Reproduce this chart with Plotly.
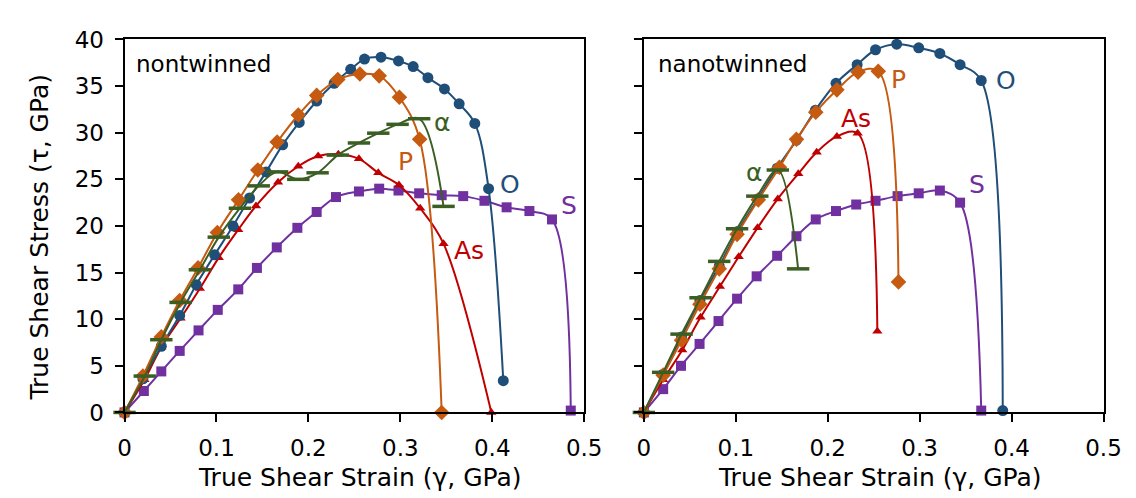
import plotly.graph_objects as go

# ---------------- data: nontwinned (left panel) ----------------
nt_O_x = [0, 0.02, 0.04, 0.06, 0.078, 0.098, 0.118, 0.136, 0.154, 0.172, 0.190, 0.209, 0.228, 0.246, 0.261, 0.279, 0.298, 0.314, 0.330, 0.348, 0.364, 0.381, 0.396, 0.412]
nt_O_y = [0, 3.6, 7.1, 10.4, 13.7, 16.9, 20.0, 23.0, 25.8, 28.7, 31.1, 33.4, 35.3, 36.8, 37.9, 38.1, 37.7, 37.1, 35.9, 34.7, 33.1, 31.0, 24.0, 3.4]

nt_P_x = [0, 0.02, 0.04, 0.06, 0.08, 0.101, 0.124, 0.145, 0.166, 0.189, 0.209, 0.232, 0.256, 0.277, 0.299, 0.321, 0.345]
nt_P_y = [0, 3.9, 8.1, 12.0, 15.5, 19.3, 22.8, 26.0, 29.0, 31.9, 34.0, 35.7, 36.3, 36.1, 33.8, 29.3, 0]

nt_A_x = [0, 0.022, 0.040, 0.061, 0.082, 0.1025, 0.1255, 0.146, 0.166, 0.189, 0.210, 0.232, 0.255, 0.276, 0.297, 0.3205, 0.347]
nt_A_y = [0, 3.9, 7.8, 11.8, 15.3, 18.8, 21.9, 24.3, 25.8, 25.0, 25.7, 27.6, 28.9, 29.95, 30.9, 31.5, 22.1]

nt_As_x = [0, 0.0216, 0.040, 0.061, 0.082, 0.1025, 0.1237, 0.143, 0.167, 0.189, 0.2106, 0.2326, 0.255, 0.276, 0.2985, 0.3216, 0.347, 0.399]
nt_As_y = [0, 3.5, 7.0, 10.1, 13.3, 16.6, 19.6, 22.15, 24.7, 26.4, 27.5, 27.7, 27.2, 25.7, 24.4, 21.9, 18.1, 0]

nt_S_x = [0, 0.021, 0.040, 0.060, 0.0805, 0.1014, 0.1237, 0.144, 0.1656, 0.188, 0.209, 0.230, 0.255, 0.277, 0.298, 0.3205, 0.345, 0.3684, 0.3915, 0.4156, 0.4404, 0.465, 0.4854]
nt_S_y = [0, 2.3, 4.4, 6.6, 8.8, 11.0, 13.2, 15.5, 17.7, 19.8, 21.5, 23.1, 23.7, 24.0, 23.8, 23.5, 23.3, 23.2, 22.7, 22.0, 21.6, 20.7, 0.2]

# ---------------- data: nanotwinned (right panel) ----------------
tw_O_x = [0, 0.021, 0.041, 0.061, 0.082, 0.102, 0.124, 0.145, 0.166, 0.1865, 0.209, 0.232, 0.252, 0.275, 0.299, 0.322, 0.344, 0.367, 0.3904]
tw_O_y = [0, 4.1, 8.1, 12.0, 15.7, 19.4, 22.9, 26.2, 29.2, 32.4, 35.3, 37.3, 38.9, 39.5, 39.1, 38.5, 37.3, 35.6, 0.2]

tw_P_x = [0, 0.021, 0.041, 0.061, 0.082, 0.1014, 0.1245, 0.1475, 0.166, 0.187, 0.210, 0.233, 0.255, 0.277]
tw_P_y = [0, 4.0, 7.75, 11.6, 15.4, 19.1, 22.8, 26.3, 29.3, 32.2, 34.6, 36.5, 36.6, 14.0]

tw_A_x = [0, 0.021, 0.041, 0.0617, 0.082, 0.1014, 0.1234, 0.1457, 0.1678]
tw_A_y = [0, 4.3, 8.4, 12.3, 16.2, 19.7, 23.2, 26.0, 15.4]

tw_As_x = [0, 0.021, 0.0418, 0.0617, 0.0827, 0.1032, 0.1237, 0.1457, 0.168, 0.188, 0.210, 0.2326, 0.254]
tw_As_y = [0, 3.5, 6.7, 10.2, 13.5, 16.7, 19.8, 22.9, 25.6, 27.9, 29.6, 29.95, 8.7]

tw_S_x = [0, 0.021, 0.0404, 0.0606, 0.0812, 0.1014, 0.1227, 0.145, 0.166, 0.187, 0.209, 0.231, 0.252, 0.276, 0.299, 0.322, 0.344, 0.367]
tw_S_y = [0, 2.5, 5.0, 7.35, 9.8, 12.2, 14.6, 16.8, 18.9, 20.7, 21.6, 22.3, 22.7, 23.2, 23.5, 23.8, 22.5, 0.2]

x_ticks = [0, 0.1, 0.2, 0.3, 0.4, 0.5]
x_tick_text = ["0", "0.1", "0.2", "0.3", "0.4", "0.5"]
y_ticks = [0, 5, 10, 15, 20, 25, 30, 35, 40]

# ---------------- styles ----------------
C_O = "#1F4E79"
C_P = "#C55A11"
C_A = "#3B5E23"
C_As = "#C00000"
C_S = "#7030A0"
FONT = "DejaVu Sans"

fig = go.Figure()


def add_series(x, y, color, symbol, size, xa, ya, ew=False):
    if ew:
        marker = dict(symbol="line-ew", size=size, line=dict(color=color, width=3.5), color=color)
    else:
        marker = dict(symbol=symbol, size=size, color=color, line=dict(width=0))
    fig.add_trace(go.Scatter(
        x=x, y=y, mode="lines+markers", xaxis=xa, yaxis=ya,
        line=dict(color=color, width=2, shape="spline", smoothing=1),
        marker=marker, cliponaxis=False, showlegend=False, hoverinfo="skip"))


for xa, ya, d in [
    ("x", "y", [(nt_S_x, nt_S_y, C_S, "square", 10, False),
                (nt_As_x, nt_As_y, C_As, "triangle-up", 9, False),
                (nt_O_x, nt_O_y, C_O, "circle", 11, False),
                (nt_P_x, nt_P_y, C_P, "diamond", 12, False),
                (nt_A_x, nt_A_y, C_A, None, 16, True)]),
    ("x2", "y2", [(tw_S_x, tw_S_y, C_S, "square", 10, False),
                  (tw_As_x, tw_As_y, C_As, "triangle-up", 9, False),
                  (tw_O_x, tw_O_y, C_O, "circle", 11, False),
                  (tw_P_x, tw_P_y, C_P, "diamond", 12, False),
                  (tw_A_x, tw_A_y, C_A, None, 16, True)]),
]:
    for x, y, c, s, sz, ew in d:
        add_series(x, y, c, s, sz, xa, ya, ew)

ax_common = dict(showline=True, linecolor="black", linewidth=2, mirror=True,
                 ticks="outside", ticklen=8, tickwidth=2, tickcolor="black",
                 showgrid=False, zeroline=False, ticklabelstandoff=6,
                 tickfont=dict(family=FONT, size=23, color="black"))

dom_y = [85 / 498, 478.5 / 498]
fig.update_layout(
    width=1136, height=498,
    margin=dict(l=0, r=0, t=0, b=0),
    paper_bgcolor="white", plot_bgcolor="white",
    xaxis=dict(domain=[112 / 1136, 582 / 1136], range=[0, 0.5], tickvals=x_ticks, ticktext=x_tick_text, **ax_common),
    yaxis=dict(domain=dom_y, range=[0, 40], tickvals=y_ticks, **ax_common),
    xaxis2=dict(domain=[643 / 1136, 1113 / 1136], range=[0, 0.5], tickvals=x_ticks, ticktext=x_tick_text, anchor="y2", **ax_common),
    yaxis2=dict(domain=dom_y, range=[0, 40], tickvals=y_ticks, showticklabels=False, anchor="x2", **ax_common),
)

ann = []
lab_font = dict(family=FONT, size=25)
# panel titles
ann.append(dict(x=0.0103, y=37.4, xref="x", yref="y", text="nontwinned", showarrow=False,
                xanchor="left", yanchor="middle", font=dict(family=FONT, size=23, color="black")))
ann.append(dict(x=0.0128, y=37.4, xref="x2", yref="y2", text="nanotwinned", showarrow=False,
                xanchor="left", yanchor="middle", font=dict(family=FONT, size=23, color="black")))
# series labels left
for t, x, y, c in [("α", 0.345, 31.1, C_A), ("P", 0.306, 26.9, C_P), ("O", 0.419, 24.4, C_O),
                   ("S", 0.484, 22.15, C_S), ("As", 0.3745, 17.4, C_As)]:
    ann.append(dict(x=x, y=y, xref="x", yref="y", text=t, showarrow=False, xanchor="center",
                    yanchor="middle", font=dict(lab_font, color=c)))
# series labels right
for t, x, y, c in [("As", 0.231, 31.5, C_As), ("α", 0.120, 25.7, C_A), ("P", 0.2766, 35.7, C_P),
                   ("O", 0.394, 35.6, C_O), ("S", 0.362, 24.4, C_S)]:
    ann.append(dict(x=x, y=y, xref="x2", yref="y2", text=t, showarrow=False, xanchor="center",
                    yanchor="middle", font=dict(lab_font, color=c)))
# axis titles
title_font = dict(family=FONT, size=25, color="black")
ann.append(dict(x=353 / 1136, y=(498 - 482) / 498, xref="paper", yref="paper", text="True Shear Strain (γ, GPa)",
                showarrow=False, xanchor="center", yanchor="middle", font=title_font))
ann.append(dict(x=884 / 1136, y=(498 - 482) / 498, xref="paper", yref="paper", text="True Shear Strain (γ, GPa)",
                showarrow=False, xanchor="center", yanchor="middle", font=title_font))
ann.append(dict(x=25 / 1136, y=(498 - 228) / 498, xref="paper", yref="paper", text="True Shear Stress (τ, GPa)",
                showarrow=False, xanchor="center", yanchor="middle", textangle=-90, font=title_font))
fig.update_layout(annotations=ann)

fig.write_html("out.html")
